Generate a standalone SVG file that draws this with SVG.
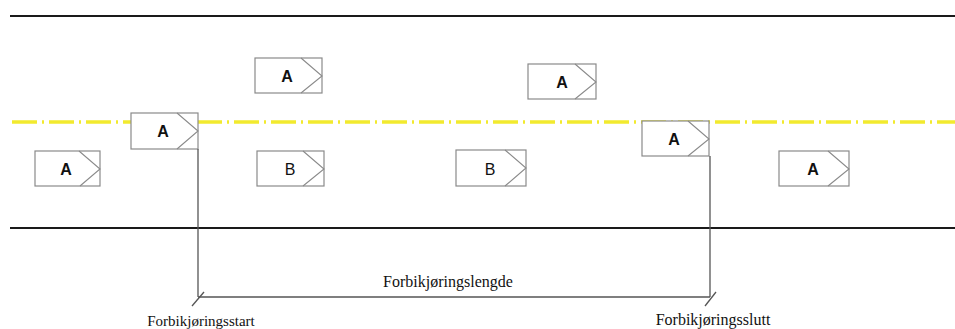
<svg xmlns="http://www.w3.org/2000/svg" width="955" height="329" viewBox="0 0 955 329">
  <defs>
    <style>
      .road { stroke: #1a1a1a; stroke-width: 2.2; fill: none; }
      .center { stroke: #f2ea2e; stroke-width: 3.5; fill: none; stroke-dasharray: 25 5 2 5; }
      .body { fill: #ffffff; stroke: #8a8a8a; stroke-width: 1.2; }
      .nose { fill: none; stroke: #8a8a8a; stroke-width: 1.1; }
      .lbl-a { font-family: "Liberation Sans", Arial, sans-serif; font-weight: bold; font-size: 16px; fill: #111; text-anchor: middle; }
      .lbl-b { font-family: "Liberation Sans", Arial, sans-serif; font-size: 16px; fill: #111; text-anchor: middle; }
      .dim { stroke: #555; stroke-width: 1.3; fill: none; }
      .cap { font-family: "Liberation Serif", "Times New Roman", serif; font-size: 15px; fill: #111; text-anchor: middle; }
    </style>
  </defs>

  <rect width="955" height="329" fill="#ffffff"/>

  <!-- road edges and centre line -->
  <g id="road">
    <line class="road" x1="10" y1="16" x2="955" y2="16"/>
    <line class="road" x1="10" y1="228" x2="955" y2="228"/>
    <line class="center" x1="12" y1="122" x2="955" y2="122"/>
  </g>

  <!-- vehicles -->
  <g id="car-a1" transform="translate(35,151)">
    <rect class="body" width="65" height="35"/>
    <polyline class="nose" points="44,0 65,18 45,35"/>
    <text class="lbl-a" x="31" y="24">A</text>
  </g>
  <g id="car-a2" transform="translate(131,113)">
    <rect class="body" width="67" height="36"/>
    <polyline class="nose" points="46,0 67,18 46,36"/>
    <text class="lbl-a" x="32" y="24">A</text>
  </g>
  <g id="car-a3" transform="translate(255,58)">
    <rect class="body" width="67" height="35"/>
    <polyline class="nose" points="46,0 67,18 46,35"/>
    <text class="lbl-a" x="32" y="24">A</text>
  </g>
  <g id="car-b1" transform="translate(257,151)">
    <rect class="body" width="67" height="35"/>
    <polyline class="nose" points="46,0 67,18 46,35"/>
    <text class="lbl-b" x="33" y="24">B</text>
  </g>
  <g id="car-a4" transform="translate(528,64)">
    <rect class="body" width="68" height="35"/>
    <polyline class="nose" points="47,0 68,18 47,35"/>
    <text class="lbl-a" x="34" y="24">A</text>
  </g>
  <g id="car-b2" transform="translate(456,150)">
    <rect class="body" width="70" height="36"/>
    <polyline class="nose" points="49,0 70,18 49,36"/>
    <text class="lbl-b" x="34" y="25">B</text>
  </g>
  <g id="car-a5" transform="translate(642,121)">
    <rect class="body" width="67" height="35"/>
    <polyline class="nose" points="46,0 67,18 46,35"/>
    <text class="lbl-a" x="32" y="24">A</text>
  </g>
  <g id="car-a6" transform="translate(779,151)">
    <rect class="body" width="70" height="35"/>
    <polyline class="nose" points="49,0 70,18 49,35"/>
    <text class="lbl-a" x="34" y="24">A</text>
  </g>

  <!-- overtaking length dimension -->
  <g id="connectors">
    <line class="dim" x1="198" y1="149" x2="198" y2="297"/>
    <line class="dim" x1="710" y1="156" x2="710" y2="297"/>
    <line class="dim" x1="198" y1="297" x2="710" y2="297"/>
    <line class="dim" x1="192" y1="306" x2="204" y2="292"/>
    <line class="dim" x1="705" y1="306" x2="716" y2="292"/>
  </g>

  <g id="labels">
    <text class="cap" x="448" y="287" style="font-size:16px">Forbikjøringslengde</text>
    <text class="cap" x="201" y="326">Forbikjøringsstart</text>
    <text class="cap" x="713" y="325" style="font-size:16px">Forbikjøringsslutt</text>
  </g>
</svg>
